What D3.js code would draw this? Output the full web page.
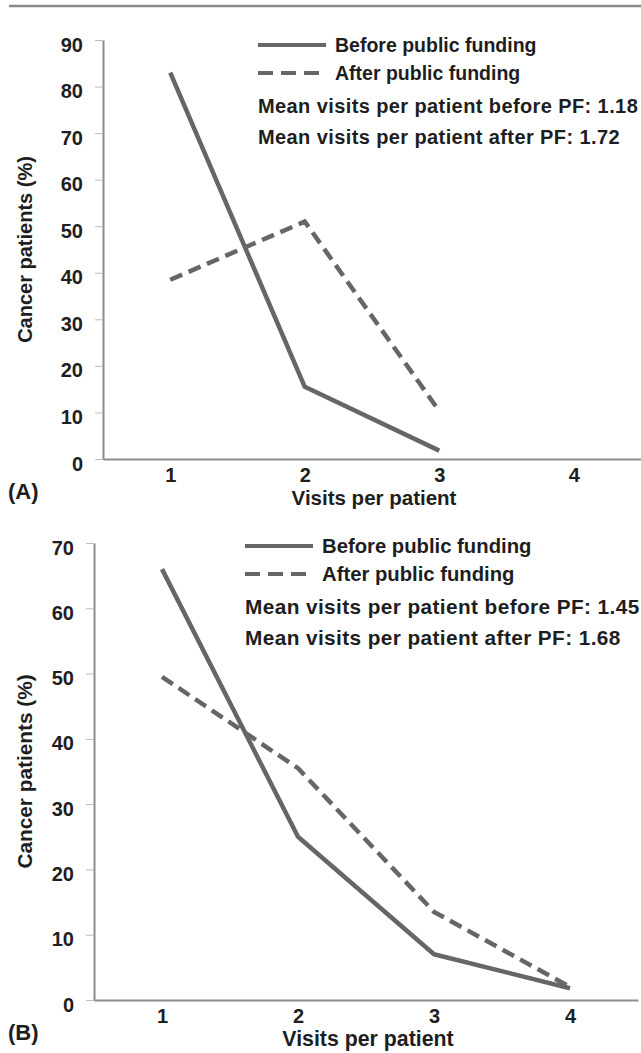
<!DOCTYPE html>
<html>
<head>
<meta charset="utf-8">
<script src="https://cdn.jsdelivr.net/npm/d3@7"></script>
<style>
  body { margin: 0; background: #fff; }
  svg { display: block; }
  text { font-family: "Liberation Sans", Arial, sans-serif; font-weight: bold; fill: #1e1e1e; }
</style>
</head>
<body>
<div id="myPlot"></div>
<script>
// Data
const visits = [1, 2, 3, 4];

const beforeA = [83, 15.5, 1.8];
const afterA = [38.5, 51, 10.3];
const ticksA = [0, 10, 20, 30, 40, 50, 60, 70, 80, 90];
const meansA = ["Mean visits per patient before PF: 1.18", "Mean visits per patient after PF: 1.72"];

const beforeB = [66, 25, 7, 1.8];
const afterB = [49.5, 35.5, 13.5, 2];
const ticksB = [0, 10, 20, 30, 40, 50, 60, 70];
const meansB = ["Mean visits per patient before PF: 1.45", "Mean visits per patient after PF: 1.68"];

const legendLabels = ["Before public funding", "After public funding"];
const xTitle = "Visits per patient";
const yTitle = "Cancer patients (%)";

const width = 641;
const height = 1053;
const lineColor = "#666";
const axisColor = "#8c8c8c";

const svg = d3.select("#myPlot")
  .append("svg")
  .attr("width", width)
  .attr("height", height);

// rule along the top of the figure
svg.append("line")
  .attr("x1", 9).attr("x2", width)
  .attr("y1", 6).attr("y2", 6)
  .attr("stroke", "#8a8a8a")
  .attr("stroke-width", 2.5);

function drawPanel(p) {
  const x = d3.scaleLinear().domain([0.5, 4.5]).range([p.left, p.right]);
  const y = d3.scaleLinear().domain([0, d3.max(p.ticks)]).range([p.bottom, p.top]);
  const fs = p.fontScale;

  const g = svg.append("g");

  // Y Axis
  const yAxis = g.append("g")
    .attr("transform", "translate(" + p.left + ",0)")
    .call(d3.axisLeft(y).tickValues(p.ticks).tickSize(8).tickSizeOuter(0).tickPadding(12));
  yAxis.select(".domain").attr("stroke", axisColor).attr("stroke-width", 2);
  yAxis.selectAll(".tick line").attr("stroke", "#bbb").attr("stroke-width", 1);
  yAxis.selectAll(".tick text")
    .attr("font-size", 20)
    .attr("dy", "0.55em")
    .attr("fill", "#1e1e1e");

  // X Axis
  const xAxis = g.append("g")
    .attr("transform", "translate(0," + p.bottom + ")")
    .call(d3.axisBottom(x).tickValues(visits).tickSize(0).tickSizeOuter(0).tickPadding(9).tickFormat(d3.format("d")));
  xAxis.select(".domain").attr("stroke", axisColor).attr("stroke-width", 2);
  xAxis.selectAll(".tick text").attr("font-size", 20).attr("fill", "#1e1e1e");

  // Lines
  const line = d3.line()
    .x(function (d, i) { return x(visits[i]); })
    .y(function (d) { return y(d); });

  g.append("path")
    .datum(p.before)
    .attr("d", line)
    .attr("fill", "none")
    .attr("stroke", lineColor)
    .attr("stroke-width", 4.5)
    .attr("stroke-linejoin", "round");

  g.append("path")
    .datum(p.after)
    .attr("d", line)
    .attr("fill", "none")
    .attr("stroke", lineColor)
    .attr("stroke-width", 4.5)
    .attr("stroke-dasharray", "13,7");

  // Legend
  const leg = g.append("g");
  leg.append("line")
    .attr("x1", p.legX).attr("x2", p.legX + 68)
    .attr("y1", p.legY).attr("y2", p.legY)
    .attr("stroke", lineColor).attr("stroke-width", 4);
  leg.append("line")
    .attr("x1", p.legX).attr("x2", p.legX + 62)
    .attr("y1", p.legY + 28).attr("y2", p.legY + 28)
    .attr("stroke", lineColor).attr("stroke-width", 4)
    .attr("stroke-dasharray", "15,8");
  leg.selectAll("text.lab")
    .data(legendLabels).enter()
    .append("text")
    .attr("x", p.legX + 77)
    .attr("y", function (d, i) { return p.legY + i * 28; })
    .attr("dy", "0.35em")
    .attr("font-size", 19.5 * fs)
    .text(function (d) { return d; });
  leg.selectAll("text.mean")
    .data(p.means).enter()
    .append("text")
    .attr("x", p.legX)
    .attr("y", function (d, i) { return p.legY + 61 + i * 31; })
    .attr("dy", "0.35em")
    .attr("font-size", 20 * fs)
    .attr("letter-spacing", 0.4)
    .text(function (d) { return d; });

  // Titles
  g.append("text")
    .attr("x", (p.left + p.right) / 2 + 2)
    .attr("y", p.bottom + 39)
    .attr("dy", "0.35em")
    .attr("text-anchor", "middle")
    .attr("font-size", 20.5 * fs)
    .text(xTitle);

  g.append("text")
    .attr("transform", "translate(25," + (p.top + p.bottom) / 2 + ") rotate(-90)")
    .attr("dy", "0.35em")
    .attr("text-anchor", "middle")
    .attr("font-size", 20 * fs)
    .text(yTitle);

  g.append("text")
    .attr("x", 8)
    .attr("y", p.bottom + 32)
    .attr("dy", "0.35em")
    .attr("font-size", 22)
    .text(p.tag);
}

drawPanel({ before: beforeA, after: afterA, ticks: ticksA, means: meansA, tag: "(A)", fontScale: 1,
  left: 103, right: 641, top: 40, bottom: 459, legX: 258, legY: 45 });

drawPanel({ before: beforeB, after: afterB, ticks: ticksB, means: meansB, tag: "(B)", fontScale: 1.04,
  left: 94, right: 638, top: 543, bottom: 1000, legX: 245, legY: 546 });
</script>
</body>
</html>
